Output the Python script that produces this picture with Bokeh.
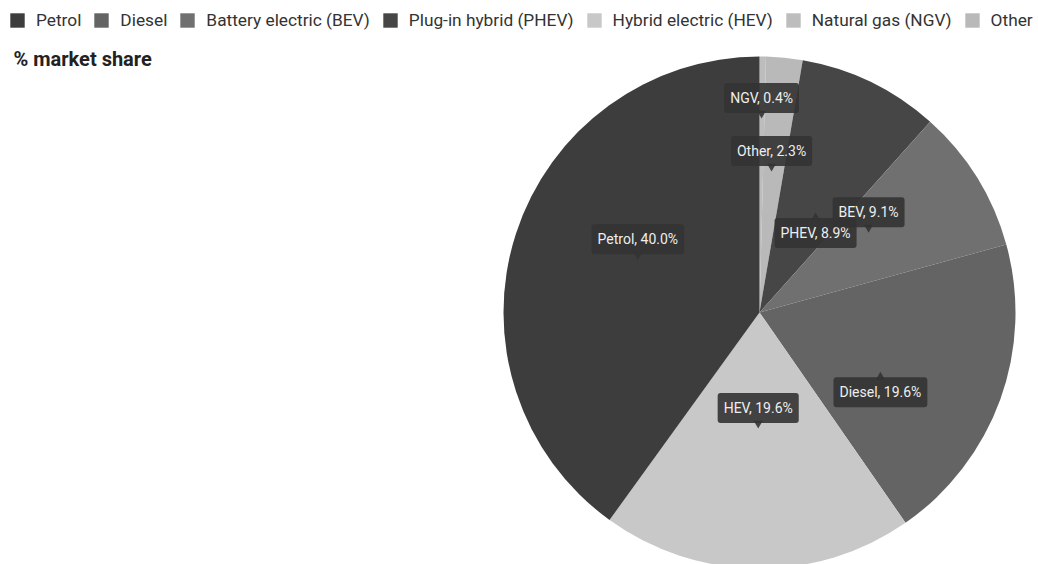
import math
from bokeh.plotting import figure
from bokeh.models import ColumnDataSource, Legend, LegendItem, Label
from bokeh.core.properties import value
from bokeh.embed import file_html
from bokeh.resources import INLINE

# ---- data ----
categories = ["Petrol", "Diesel", "Battery electric (BEV)", "Plug-in hybrid (PHEV)",
              "Hybrid electric (HEV)", "Natural gas (NGV)", "Other"]
short_names = ["Petrol", "Diesel", "BEV", "PHEV", "HEV", "NGV", "Other"]
shares = [40.0, 19.6, 9.1, 8.9, 19.6, 0.4, 2.3]
colors = ["#3d3d3d", "#646464", "#707070", "#464646", "#c8c8c8", "#bdbdbd", "#b9b9b9"]
# slice order, clockwise from 12 o'clock
pie_order = ["NGV", "Other", "PHEV", "BEV", "Diesel", "HEV", "Petrol"]

# ---- label layout (styling) ----
label_shift_deg = {"NGV": -0.1, "Other": -0.7, "PHEV": 3.5, "BEV": -4.4,
                   "Diesel": 6.2, "HEV": 0.1, "Petrol": 5.5}
label_radius = {"NGV": 0.758, "Other": 0.553, "PHEV": 0.448, "BEV": 0.528,
                "Diesel": 0.526, "HEV": 0.453, "Petrol": 0.518}
label_box_above = {"NGV": True, "Other": True, "PHEV": False, "BEV": True,
                   "Diesel": False, "HEV": True, "Petrol": True}

W, H = 1038, 564
CX, CY, R = 759, 312, 256
PX = 1.0 / R

total = sum(shares)
idx = {s: i for i, s in enumerate(short_names)}

starts, ends, fills, names = [], [], [], []
bx, by, btext, tx, ty, tmark = [], [], [], [], [], []
cum = 0.0
for s in pie_order:
    i = idx[s]
    frac = shares[i] / total
    t0 = cum * 2 * math.pi
    t1 = (cum + frac) * 2 * math.pi
    starts.append(math.pi / 2 - t0)
    ends.append(math.pi / 2 - t1)
    fills.append(colors[i])
    names.append(categories[i])
    mid = (t0 + t1) / 2 + math.radians(label_shift_deg[s])
    rr = label_radius[s]
    xt = rr * math.sin(mid)
    yt = rr * math.cos(mid)
    sign = 1 if label_box_above[s] else -1
    bx.append(xt)
    by.append(yt + sign * 20.5 * PX)
    btext.append(f"{s}, {shares[i]:.1f}%")
    tx.append(xt)
    ty.append(yt + sign * 5.2 * PX)
    tmark.append("inverted_triangle" if label_box_above[s] else "triangle")
    cum += frac

p = figure(width=W, height=H, output_backend="svg", toolbar_location=None,
           x_range=(-CX * PX, (W - CX) * PX), y_range=(-(H - CY) * PX, CY * PX),
           min_border=0, outline_line_color=None, background_fill_color="white",
           border_fill_color="white")
p.axis.visible = False
p.grid.visible = False

src = ColumnDataSource(dict(start=starts, end=ends, color=fills, name=names))
wr = p.wedge(x=0, y=0, radius=1.0, start_angle="start", end_angle="end",
             direction="clock", fill_color="color", line_color=None, source=src)

tsrc = ColumnDataSource(dict(x=tx, y=ty, m=tmark))
p.scatter(x="x", y="y", marker="m", size=9, fill_color="#333333", fill_alpha=0.9,
          line_color=None, source=tsrc)

lsrc = ColumnDataSource(dict(x=bx, y=by, t=btext))
p.text(x="x", y="y", text="t", source=lsrc, text_align="center", text_baseline="middle",
       text_font=value("Roboto"), text_font_size="14px", text_color="#eeeeee",
       background_fill_color="#333333", background_fill_alpha=0.9,
       padding=dict(left=6, right=6, top=7, bottom=7), border_radius=3)

items = []
for i, c in enumerate(categories):
    items.append(LegendItem(label=c, renderers=[wr], index=pie_order.index(short_names[i])))
legend = Legend(items=items, orientation="horizontal", location=(8, H - 10 - 20),
                padding=0, margin=0, spacing=11, glyph_width=18, glyph_height=18,
                label_standoff=10, label_height=20,
                label_text_font="Roboto", label_text_font_size="17.3px",
                label_text_color="#333333", border_line_color=None,
                background_fill_alpha=0)
p.add_layout(legend)

title = Label(x=13, y=H - 58, x_units="screen", y_units="screen", text="% market share",
              text_font="Roboto", text_font_style="bold", text_font_size="20px",
              text_color="#222222", text_baseline="alphabetic")
p.add_layout(title)

open("out.html", "w").write(file_html(p, INLINE))
